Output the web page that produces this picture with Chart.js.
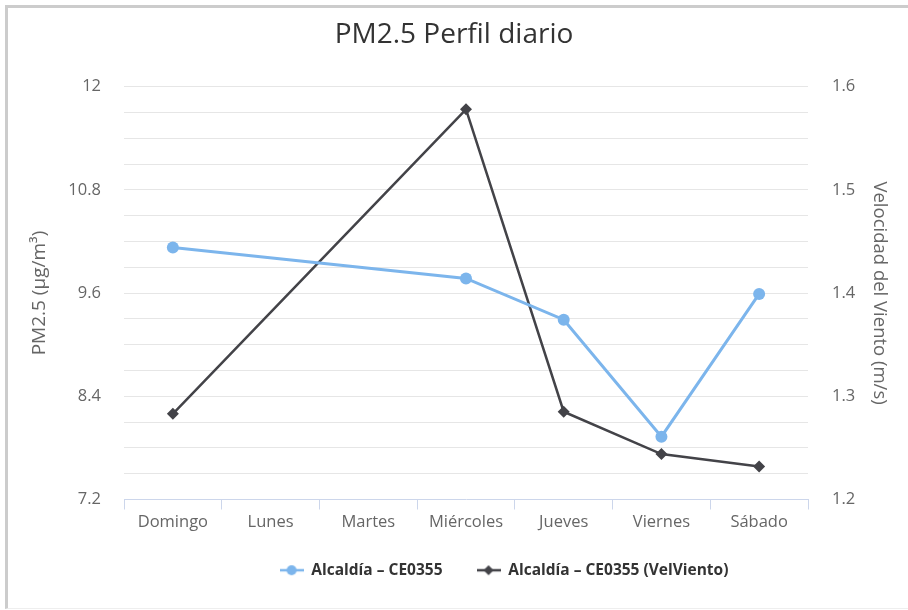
<!DOCTYPE html>
<html>
<head>
<meta charset="utf-8">
<script src="https://cdn.jsdelivr.net/npm/chart.js@4.4.1/dist/chart.umd.min.js"></script>
<style>
  html, body { margin: 0; padding: 0; background: #fff; }
  #wrap { position: relative; width: 908px; height: 610px; }
  #frame { position: absolute; left: 5px; top: 5px; right: 0; bottom: 1px;
           border-top: 3px solid #cccccc; border-left: 3px solid #cccccc; border-bottom: 1px solid #eeeeee; }
  #myChart { position: absolute; left: 0; top: 0; }
</style>
</head>
<body>
<div id="wrap">
  <div id="frame"></div>
  <canvas id="myChart" width="908" height="610"></canvas>
</div>
<script>
// data
const categories = ['Domingo', 'Lunes', 'Martes', 'Miércoles', 'Jueves', 'Viernes', 'Sábado'];
const pm25 = [10.13, null, null, 9.77, 9.29, 7.93, 9.59];
const velViento = [1.283, null, null, 1.578, 1.285, 1.244, 1.232];
const leftTickLabels = ['7.2', '8.4', '9.6', '10.8', '12'];
const rightTickLabels = ['1.2', '1.3', '1.4', '1.5', '1.6'];

const blue = '#7cb5ec';
const dark = '#434348';
const fontFam = "'Open Sans', 'DejaVu Sans', sans-serif";

// legend symbol: line with marker in the middle
function legendMarker(color, shape) {
  let c = document.createElement('canvas');
  c.width = 24; c.height = 12;
  let g = c.getContext('2d');
  g.strokeStyle = color; g.lineWidth = 2.5;
  g.beginPath(); g.moveTo(0, 6); g.lineTo(24, 6); g.stroke();
  g.fillStyle = color;
  g.beginPath();
  if (shape == 'circle') g.arc(12, 6, 5, 0, Math.PI * 2);
  else { g.moveTo(12, 1); g.lineTo(17, 6); g.lineTo(12, 11); g.lineTo(7, 6); g.closePath(); }
  g.fill();
  return c;
}
const markers = [legendMarker(blue, 'circle'), legendMarker(dark, 'diamond')];

// legend sits a bit right of centre and higher in the original
const legendShift = {
  id: 'legendShift',
  afterLayout: function(chart) {
    let lg = chart.legend;
    lg.left += 50; lg.right += 50;
    lg.top -= 11; lg.bottom -= 11;
  }
};

let ctx = document.getElementById('myChart');
new Chart(ctx, {
  type: 'line',
  data: {
    labels: categories,
    datasets: [{
      label: 'Alcaldía – CE0355',
      data: pm25,
      yAxisID: 'y',
      borderColor: blue,
      backgroundColor: blue,
      borderWidth: 3,
      pointStyle: 'circle',
      pointRadius: 6,
      pointBorderWidth: 0,
      spanGaps: true,
      tension: 0
    }, {
      label: 'Alcaldía – CE0355 (VelViento)',
      data: velViento,
      yAxisID: 'y1',
      borderColor: dark,
      backgroundColor: dark,
      borderWidth: 2.5,
      pointStyle: 'rectRot',
      pointRadius: 6,
      pointBorderWidth: 0,
      spanGaps: true,
      tension: 0
    }]
  },
  plugins: [legendShift],
  options: {
    responsive: false,
    animation: false,
    layout: { padding: { left: 0, right: 0, top: 0, bottom: 11 } },
    scales: {
      x: {
        offset: true,
        grid: { offset: true, drawOnChartArea: false, drawTicks: true, tickLength: 10, color: '#ccd6eb' },
        border: { display: true, color: '#ccd6eb', width: 1 },
        ticks: { color: '#666', font: { family: fontFam, size: 16.5 }, padding: 3, maxRotation: 0 },
        afterFit: function(s) { s.height = 40; }
      },
      y: {
        position: 'left',
        min: 7.2, max: 12,
        border: { display: false },
        grid: {
          drawTicks: false,
          color: function(c) { return c.index == 0 ? 'rgba(0,0,0,0)' : '#e6e6e6'; }
        },
        ticks: {
          stepSize: 0.3, autoSkip: false, padding: 23, color: '#666',
          font: { family: fontFam, size: 16.5 },
          callback: function(v, i) { return i % 4 == 0 ? leftTickLabels[i / 4] : ''; }
        },
        title: { display: true, text: 'PM2.5 (µg/m³)', color: '#666', font: { family: fontFam, size: 19 }, padding: { top: 28, bottom: 0 } },
        afterFit: function(s) { s.width = 124; }
      },
      y1: {
        position: 'right',
        min: 1.2, max: 1.6,
        border: { display: false },
        grid: { display: false, drawTicks: false },
        ticks: {
          stepSize: 0.1, autoSkip: false, padding: 24, color: '#666',
          font: { family: fontFam, size: 16.5 },
          callback: function(v, i) { return rightTickLabels[i]; }
        },
        title: { display: true, text: 'Velocidad del Viento (m/s)', color: '#666', font: { family: fontFam, size: 18.5 }, padding: { top: 18, bottom: 0 } },
        afterFit: function(s) { s.width = 100; }
      }
    },
    plugins: {
      title: {
        display: true,
        text: 'PM2.5 Perfil diario',
        color: '#333',
        font: { family: fontFam, size: 28, weight: 'normal' },
        padding: { top: 18, bottom: 35 }
      },
      legend: {
        position: 'bottom',
        labels: {
          usePointStyle: true,
          pointStyleWidth: 24,
          color: '#333',
          padding: 34,
          font: { family: fontFam, size: 15.5, weight: 'bold' },
          generateLabels: function(chart) {
            let items = Chart.defaults.plugins.legend.labels.generateLabels(chart);
            items.forEach((it, i) => { it.pointStyle = markers[i]; });
            return items;
          }
        }
      },
      tooltip: { enabled: false }
    }
  }
});
</script>
</body>
</html>
